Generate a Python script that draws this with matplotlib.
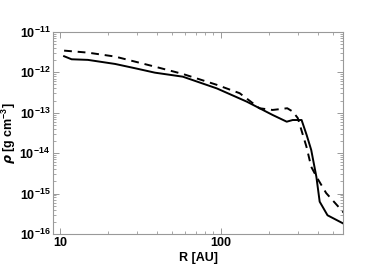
import numpy as np
import matplotlib
matplotlib.use("Agg")
import matplotlib.pyplot as plt

# radius [AU] and density [g cm^-3]
r_solid = [10.6, 11.8, 14.9, 22.0, 29.3, 38.9, 58.0, 94.4, 145.0, 210.0,
           257.0, 280.0, 318.0, 342.0, 365.0, 393.0, 412.0, 461.0, 580.0]
rho_solid = [2.5e-12, 2.1e-12, 2.03e-12, 1.61e-12, 1.26e-12, 9.8e-13, 7.8e-13,
             4.0e-13, 1.88e-13, 8.8e-14, 6.0e-14, 6.6e-14, 6.6e-14, 2.8e-14,
             1.2e-14, 2.6e-15, 6.3e-16, 2.9e-16, 1.8e-16]

r_dash = [10.6, 14.9, 22.0, 38.9, 58.0, 94.4, 131.0, 174.0, 210.0, 259.0,
          280.0, 301.0, 341.0, 365.0, 397.0, 452.0, 580.0]
rho_dash = [3.44e-12, 3.07e-12, 2.45e-12, 1.38e-12, 9.1e-13, 4.9e-13, 3.04e-13,
            1.29e-13, 1.17e-13, 1.29e-13, 1.07e-13, 7.4e-14, 1.44e-14, 4.6e-15,
            2.45e-15, 1.03e-15, 3.4e-16]

plt.rcParams['font.family'] = ['Liberation Sans', 'DejaVu Sans']
plt.rcParams['font.weight'] = 'bold'
plt.rcParams['mathtext.fontset'] = 'custom'
plt.rcParams['mathtext.rm'] = 'Liberation Sans:bold'
plt.rcParams['mathtext.bf'] = 'Liberation Sans:bold'
plt.rcParams['mathtext.it'] = 'DejaVu Sans:italic'

fig = plt.figure(figsize=(3.66, 2.68), dpi=100)
ax = fig.add_axes([0.145, 0.127, 0.792, 0.754])

ax.plot(r_solid, rho_solid, color='black', lw=1.4, ls='-')
ax.plot(r_dash, rho_dash, color='black', lw=1.4, ls=(0, (4, 3)))

ax.set_xscale('log')
ax.set_yscale('log')
ax.set_xlim(9.05, 575)
ax.set_ylim(1e-16, 1e-11)

for s in ax.spines.values():
    s.set_color('#999999')
    s.set_linewidth(0.8)
ax.tick_params(which='both', direction='in', top=True, right=True,
               color='#999999', labelsize=9, pad=2)
ax.tick_params(which='major', length=4, width=0.7)
ax.tick_params(which='minor', length=2, width=0.6)
ax.yaxis.set_major_locator(matplotlib.ticker.LogLocator(base=10, numticks=10))
ax.yaxis.set_minor_locator(matplotlib.ticker.LogLocator(base=10, subs=np.arange(2, 10), numticks=20))
ax.yaxis.set_minor_formatter(matplotlib.ticker.NullFormatter())
ax.xaxis.set_major_formatter(matplotlib.ticker.FuncFormatter(lambda v, p: '%d' % v))
ax.xaxis.set_minor_formatter(matplotlib.ticker.NullFormatter())

ax.set_xlabel('R [AU]', fontsize=9, fontweight='bold', labelpad=2)
ax.set_ylabel(r'$\rho$ [g cm$^{-3}$]', fontsize=9, fontweight='bold')
ax.yaxis.set_label_coords(-0.122, 0.5)

fig.savefig('out.png', dpi=100)
